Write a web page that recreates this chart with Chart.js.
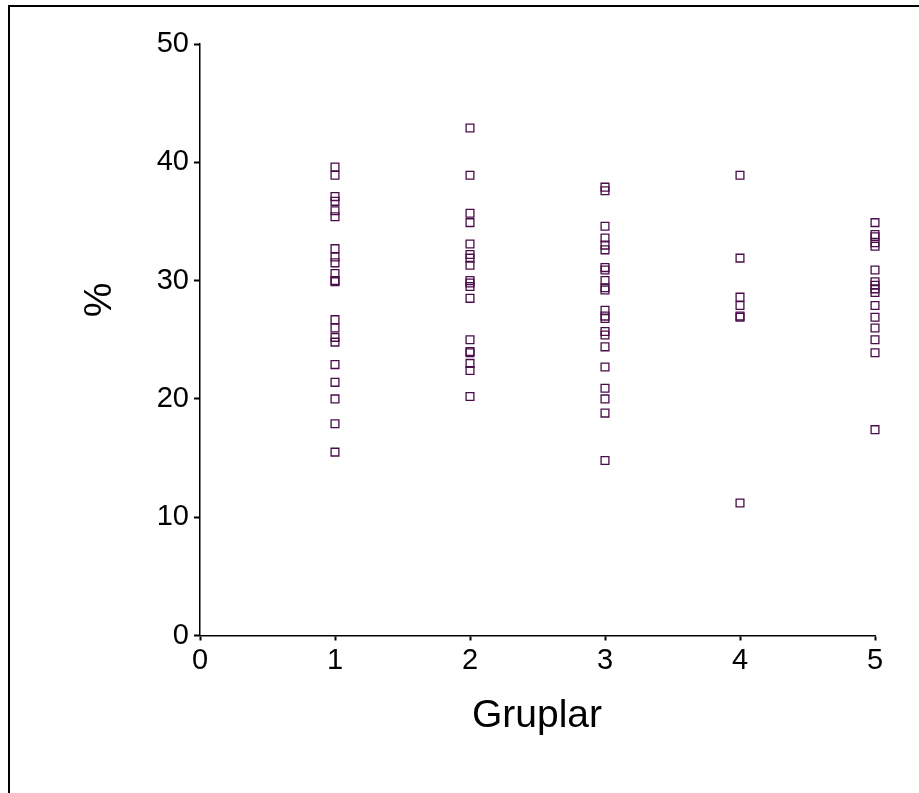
<!DOCTYPE html>
<html lang="tr">
<head>
<meta charset="UTF-8">
<script src="https://cdn.jsdelivr.net/npm/chart.js@4"></script>
<title>Gruplar</title>
<style>
  html, body { margin: 0; padding: 0; background: #fff; }
  #wrap { position: relative; width: 919px; height: 793px; }
  #frame { position: absolute; left: 8px; top: 5px; right: 0; bottom: 0;
           border-left: 2px solid #000; border-top: 2px solid #000; }
  canvas { position: absolute; left: 0; top: 0; }
</style>
</head>
<body>
<div id="wrap">
  <div id="frame"></div>
  <canvas id="chart" width="919" height="793"></canvas>
</div>
<script>
// values, one list per group
var grup1 = [39.6, 38.9, 37.1, 36.7, 35.9, 35.4, 32.7, 32.0, 31.5, 30.6, 30.0, 29.9,
             26.7, 26.0, 25.2, 24.8, 22.9, 21.4, 20.0, 17.9, 15.5];
var grup2 = [42.9, 38.9, 35.7, 34.9, 33.1, 32.2, 31.9, 31.3, 30.0, 29.8, 29.5, 28.5,
             25.0, 24.0, 23.9, 23.0, 22.4, 20.2];
var grup3 = [37.9, 37.6, 34.6, 33.6, 33.0, 32.6, 31.1, 30.9, 30.0, 29.4, 29.2, 27.5,
             27.0, 26.8, 25.7, 25.4, 24.4, 22.7, 20.9, 20.0, 18.8, 14.8];
var grup4 = [38.9, 31.9, 28.6, 27.9, 27.0, 26.9, 11.2];
var grup5 = [34.9, 33.9, 33.7, 33.2, 32.9, 30.9, 29.9, 29.6, 29.3, 29.0, 27.9, 26.9,
             26.0, 25.0, 23.9, 17.4];
var gruplar = [grup1, grup2, grup3, grup4, grup5];
var xTicks = [0, 1, 2, 3, 4, 5];
var yTicks = [0, 10, 20, 30, 40, 50];

var points = [];
gruplar.forEach(function (vals, i) {
    vals.forEach(function (v) { points.push({ x: i + 1, y: v }); });
});

var font = 'Liberation Sans, Arial, sans-serif';

// axis titles drawn by hand so they sit where the original has them
var titles = {
    id: 'titles',
    afterDraw: function (chart) {
        var ctx = chart.ctx;
        ctx.save();
        ctx.fillStyle = '#000';
        ctx.font = '39px ' + font;
        ctx.textAlign = 'center';
        ctx.textBaseline = 'middle';
        ctx.fillText('Gruplar', 537, 716);
        ctx.translate(100, 300);
        ctx.rotate(-Math.PI / 2);
        ctx.fillText('%', 0, 0);
        ctx.restore();
    }
};

var ctx = document.getElementById('chart').getContext('2d');
new Chart(ctx, {
    type: 'scatter',
    data: {
        datasets: [{
            data: points,
            clip: false,
            pointStyle: 'rect',
            pointRadius: 5.5,
            pointBorderWidth: 1.3,
            borderColor: '#4a0c4a',
            backgroundColor: 'rgba(0,0,0,0)'
        }]
    },
    options: {
        responsive: false,
        animation: false,
        layout: { padding: { left: 0, top: 44, right: 44, bottom: 0 } },
        plugins: { legend: { display: false }, tooltip: { enabled: false } },
        scales: {
            x: {
                type: 'linear', min: 0, max: 5,
                afterBuildTicks: function (s) { s.ticks = xTicks.map(function (v) { return { value: v }; }); },
                afterFit: function (s) { s.height = 793 - 635.5; },
                grid: { drawOnChartArea: false, drawTicks: true, tickLength: 5, tickWidth: 2, color: '#000' },
                border: { display: true, color: '#000', width: 1.5 },
                ticks: { color: '#000', padding: 3, font: { family: font, size: 29 }, maxRotation: 0 }
            },
            y: {
                type: 'linear', min: 0, max: 50,
                afterBuildTicks: function (s) { s.ticks = yTicks.map(function (v) { return { value: v }; }); },
                afterFit: function (s) { s.width = 200; },
                grid: { drawOnChartArea: false, drawTicks: true, tickLength: 6, tickWidth: 2, color: '#000' },
                border: { display: true, color: '#000', width: 1.5 },
                ticks: { color: '#000', padding: 5, font: { family: font, size: 29 } }
            }
        }
    },
    plugins: [titles]
});
</script>
</body>
</html>
